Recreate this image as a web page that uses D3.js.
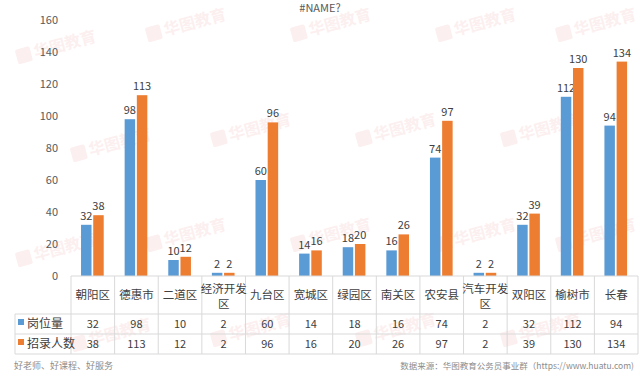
<!DOCTYPE html>
<html>
<head>
<meta charset="utf-8">
<script src="https://cdn.jsdelivr.net/npm/d3@7"></script>
<style>
  body { margin: 0; background: #fff; }
  svg { display: block; }
</style>
</head>
<body>
<script>
// 数据
var categories = ["朝阳区", "德惠市", "二道区", "经济开发区", "九台区", "宽城区", "绿园区", "南关区", "农安县", "汽车开发区", "双阳区", "榆树市", "长春"];
var seriesNames = ["岗位量", "招录人数"];
var posts = [32, 98, 10, 2, 60, 14, 18, 16, 74, 2, 32, 112, 94];
var hires = [38, 113, 12, 2, 96, 16, 20, 26, 97, 2, 39, 130, 134];
var yTicks = [0, 20, 40, 60, 80, 100, 120, 140, 160];
var colors = ["#5b9bd5", "#ed7d31"];
var seriesValues = [posts, hires];

var W = 640, H = 377;
var font = "'Microsoft YaHei', 'Noto Sans CJK SC', sans-serif";

var svg = d3.select("body").append("svg")
    .attr("width", W).attr("height", H);

// 水印
var wm = svg.append("g").attr("fill", "#fcefef").attr("font-family", font);
[[20, 62], [150, 40], [295, 40], [440, 40], [560, 40],
 [75, 160], [215, 145], [360, 145], [505, 145],
 [20, 265], [150, 250], [295, 250], [440, 250], [560, 250],
 [75, 350], [215, 345], [360, 345], [505, 345]].forEach(function (p) {
    var g = wm.append("g").attr("transform", "translate(" + p[0] + "," + p[1] + ") rotate(-15)");
    g.append("rect").attr("x", -2).attr("y", -13).attr("width", 15).attr("height", 15).attr("rx", 2);
    g.append("text").attr("x", 16).attr("font-size", 16).attr("font-weight", "bold").text("华图教育");
});

// 比例尺
var left = 71, right = 638;
var x0 = d3.scaleBand().domain(categories).range([left, right]).padding(0);
var x1 = d3.scaleBand().domain(seriesNames)
    .range([x0.bandwidth() * 0.23, x0.bandwidth() * 0.75])
    .paddingInner(0.14);
var y = d3.scaleLinear().domain([0, 160]).range([276, 20]);

// 标题
svg.append("text")
    .attr("x", 320).attr("y", 12)
    .attr("text-anchor", "middle")
    .attr("font-family", font).attr("font-size", 11)
    .attr("fill", "#595959")
    .text("#NAME?");

// Y轴
var yAxis = d3.axisLeft(y).tickValues(yTicks).tickSize(0).tickPadding(0);
var gy = svg.append("g")
    .attr("transform", "translate(58,0)")
    .call(yAxis);
gy.select(".domain").remove();
gy.selectAll("text")
    .attr("font-family", font).attr("font-size", 11)
    .attr("fill", "#595959");

// 柱子
seriesNames.forEach(function (s, si) {
    var vals = seriesValues[si];
    svg.append("g").selectAll("rect")
        .data(categories)
        .enter().append("rect")
        .attr("x", function (d) { return x0(d) + x1(s); })
        .attr("y", function (d, i) { return y(vals[i]); })
        .attr("width", x1.bandwidth())
        .attr("height", function (d, i) { return y(0) - y(vals[i]); })
        .attr("fill", colors[si]);
    svg.append("g").selectAll("text")
        .data(categories)
        .enter().append("text")
        .attr("x", function (d) { return x0(d) + x1(s) + x1.bandwidth() / 2; })
        .attr("y", function (d, i) { return y(vals[i]) - 5; })
        .attr("text-anchor", "middle")
        .attr("font-family", font).attr("font-size", 11)
        .attr("fill", "#404040")
        .text(function (d, i) { return vals[i]; });
});

// 数据表
var rowTop = [276, 314, 334, 354];
var legendLeft = 15;
var grid = svg.append("g").attr("stroke", "#d9d9d9").attr("stroke-width", 1).attr("fill", "none");
// 横线
grid.append("line").attr("x1", legendLeft).attr("x2", right).attr("y1", rowTop[1]).attr("y2", rowTop[1]);
grid.append("line").attr("x1", legendLeft).attr("x2", right).attr("y1", rowTop[2]).attr("y2", rowTop[2]);
grid.append("line").attr("x1", legendLeft).attr("x2", right).attr("y1", rowTop[3]).attr("y2", rowTop[3]);
grid.append("line").attr("x1", left).attr("x2", right).attr("y1", rowTop[0]).attr("y2", rowTop[0]);
// 竖线
grid.append("line").attr("x1", legendLeft).attr("x2", legendLeft).attr("y1", rowTop[1]).attr("y2", rowTop[3]);
grid.selectAll("line.v").data(categories.concat(["end"]))
    .enter().append("line")
    .attr("class", "v")
    .attr("x1", function (d) { return d === "end" ? right : x0(d); })
    .attr("x2", function (d) { return d === "end" ? right : x0(d); })
    .attr("y1", rowTop[0]).attr("y2", rowTop[3]);

// 类别标签
var catG = svg.append("g").attr("font-family", font).attr("font-size", 11.5).attr("fill", "#404040");
categories.forEach(function (c) {
    var cx = x0(c) + x0.bandwidth() / 2;
    if (c.length > 4) {
        catG.append("text").attr("x", cx).attr("y", 293).attr("text-anchor", "middle").text(c.slice(0, 4));
        catG.append("text").attr("x", cx).attr("y", 308).attr("text-anchor", "middle").text(c.slice(4));
    } else {
        catG.append("text").attr("x", cx).attr("y", 299).attr("text-anchor", "middle").text(c);
    }
});

// 数值行
seriesNames.forEach(function (s, si) {
    var vals = seriesValues[si];
    var cy = (rowTop[si + 1] + rowTop[si + 2]) / 2 + 4;
    svg.append("rect")
        .attr("x", 18).attr("y", cy - 9)
        .attr("width", 6).attr("height", 6)
        .attr("fill", colors[si]);
    svg.append("text")
        .attr("x", 27).attr("y", cy)
        .attr("font-family", font).attr("font-size", 12)
        .attr("fill", "#404040")
        .text(s);
    svg.append("g").selectAll("text")
        .data(categories)
        .enter().append("text")
        .attr("x", function (d) { return x0(d) + x0.bandwidth() / 2; })
        .attr("y", cy)
        .attr("text-anchor", "middle")
        .attr("font-family", font).attr("font-size", 11)
        .attr("fill", "#404040")
        .text(function (d, i) { return vals[i]; });
});

// 页脚
svg.append("text")
    .attr("x", 14).attr("y", 369)
    .attr("font-family", font).attr("font-size", 9)
    .attr("fill", "#8c8c8c")
    .text("好老师、好课程、好服务");
svg.append("text")
    .attr("x", 634).attr("y", 369)
    .attr("text-anchor", "end")
    .attr("font-family", font).attr("font-size", 8.5)
    .attr("fill", "#8c8c8c")
    .text("数据来源：华图教育公务员事业群（https://www.huatu.com)");
</script>
</body>
</html>
